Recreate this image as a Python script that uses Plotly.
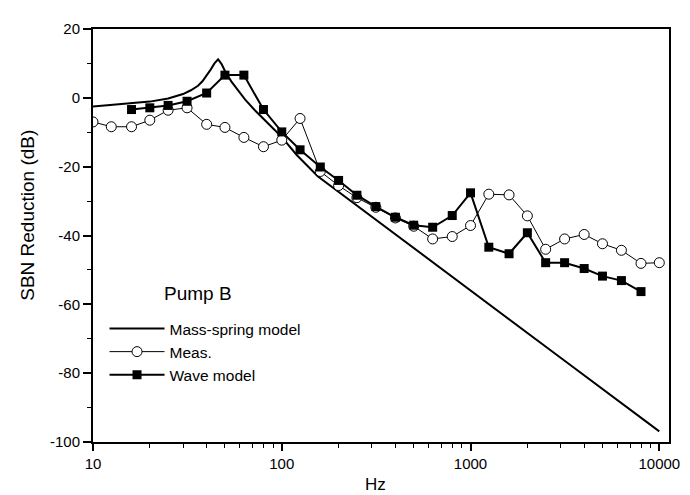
import plotly.graph_objects as go

# Mass-spring model (smooth curve)
ms_freq = [10, 15, 20, 25, 30, 33, 36, 38, 40, 42, 44, 46, 48, 50, 54, 58.6, 64, 72, 80, 92, 105, 120, 155, 300, 1000, 3000, 10000]
ms_db = [-2.5, -1.8, -1.1, -0.2, 1.1, 2.2, 3.5, 4.8, 6.4, 8.2, 10.0, 11.2, 9.8, 7.8, 4.8, 2.1, -0.5, -3.6, -6.0, -9.4, -12.8, -16.6, -22.8, -34.5, -55.9, -75.5, -96.9]

# Measured
meas_freq = [10, 12.5, 16, 20, 25, 31.5, 40, 50, 63, 80, 100, 125, 160, 200, 250, 315, 400, 500, 630, 800, 1000, 1250, 1600, 2000, 2500, 3150, 4000, 5000, 6300, 8000, 10000]
meas_db = [-7.0, -8.4, -8.4, -6.5, -3.6, -2.9, -7.7, -8.6, -11.5, -14.2, -12.3, -6.0, -21.4, -25.5, -29.0, -31.8, -34.9, -37.3, -41.0, -40.3, -37.1, -28.0, -28.2, -34.3, -44.0, -41.0, -39.7, -42.4, -44.3, -48.1, -47.9]

# Wave model
wave_freq = [16, 20, 25, 31.5, 40, 50, 63, 80, 100, 125, 160, 200, 250, 315, 400, 500, 630, 800, 1000, 1250, 1600, 2000, 2500, 3150, 4000, 5000, 6300, 8000]
wave_db = [-3.4, -2.9, -2.2, -1.0, 1.4, 6.6, 6.6, -3.4, -9.9, -15.1, -20.1, -24.0, -28.3, -31.6, -34.7, -37.0, -37.6, -34.2, -27.6, -43.4, -45.3, -39.2, -47.9, -47.9, -49.6, -51.8, -53.1, -56.3]

x_tickvals = [10, 100, 1000, 10000]
x_ticktext = ["10", "100", "1000", "10000"]
y_tickvals = [20, 0, -20, -40, -60, -80, -100]
y_ticktext = ["20", "0", "-20", "-40", "-60", "-80", "-100"]

FONT = "Liberation Sans, Arial, sans-serif"

fig = go.Figure()
fig.add_trace(go.Scatter(x=ms_freq, y=ms_db, mode="lines", name="Mass-spring model",
                         line=dict(color="black", width=2)))
fig.add_trace(go.Scatter(x=meas_freq, y=meas_db, mode="lines+markers", name="Meas.",
                         line=dict(color="black", width=1),
                         marker=dict(symbol="circle", size=10, color="white",
                                     line=dict(color="black", width=1))))
fig.add_trace(go.Scatter(x=wave_freq, y=wave_db, mode="lines+markers", name="Wave model",
                         line=dict(color="black", width=2),
                         marker=dict(symbol="square", size=9, color="black")))

fig.update_layout(
    width=690, height=495,
    margin=dict(l=85, r=29, t=16, b=61),
    paper_bgcolor="white", plot_bgcolor="white",
    font=dict(family=FONT, color="black", size=15),
    showlegend=True,
    legend=dict(x=0.02, y=0.315, xanchor="left", yanchor="top",
                bgcolor="rgba(0,0,0,0)", font=dict(size=15.5, family=FONT),
                itemwidth=55, tracegroupgap=0),
    annotations=[
        dict(text="Pump B", x=0.12, y=0.36, xref="paper", yref="paper",
             xanchor="left", yanchor="middle", showarrow=False, font=dict(size=19, family=FONT)),
        dict(text="SBN Reduction (dB)", x=-0.113, y=0.55, xref="paper", yref="paper",
             textangle=-90, xanchor="center", yanchor="middle", showarrow=False,
             font=dict(size=19, family=FONT)),
        dict(text="Hz", x=0.49, y=-0.103, xref="paper", yref="paper",
             xanchor="center", yanchor="middle", showarrow=False, font=dict(size=17, family=FONT)),
    ],
)

fig.update_xaxes(type="log", range=[1, 4.0514], showgrid=False, zeroline=False,
                 showline=True, linecolor="black", linewidth=2, mirror=True,
                 ticks="outside", ticklen=7, tickwidth=1.5, tickcolor="black",
                 tickvals=x_tickvals, ticktext=x_ticktext,
                 minor=dict(ticks="outside", ticklen=4, tickwidth=1, tickcolor="black",
                            tickvals=[v * m for v in [10, 100, 1000] for m in range(2, 10)]),
                 tickfont=dict(size=15, family=FONT))
fig.update_yaxes(range=[-100, 20], showgrid=False, zeroline=False,
                 showline=True, linecolor="black", linewidth=2, mirror=True,
                 ticks="outside", ticklen=8, tickwidth=1.5, tickcolor="black",
                 tickvals=y_tickvals, ticktext=y_ticktext,
                 minor=dict(ticks="outside", ticklen=4, tickwidth=1, tickcolor="black", dtick=10),
                 tickfont=dict(size=15, family=FONT))

fig.write_html("out.html")
